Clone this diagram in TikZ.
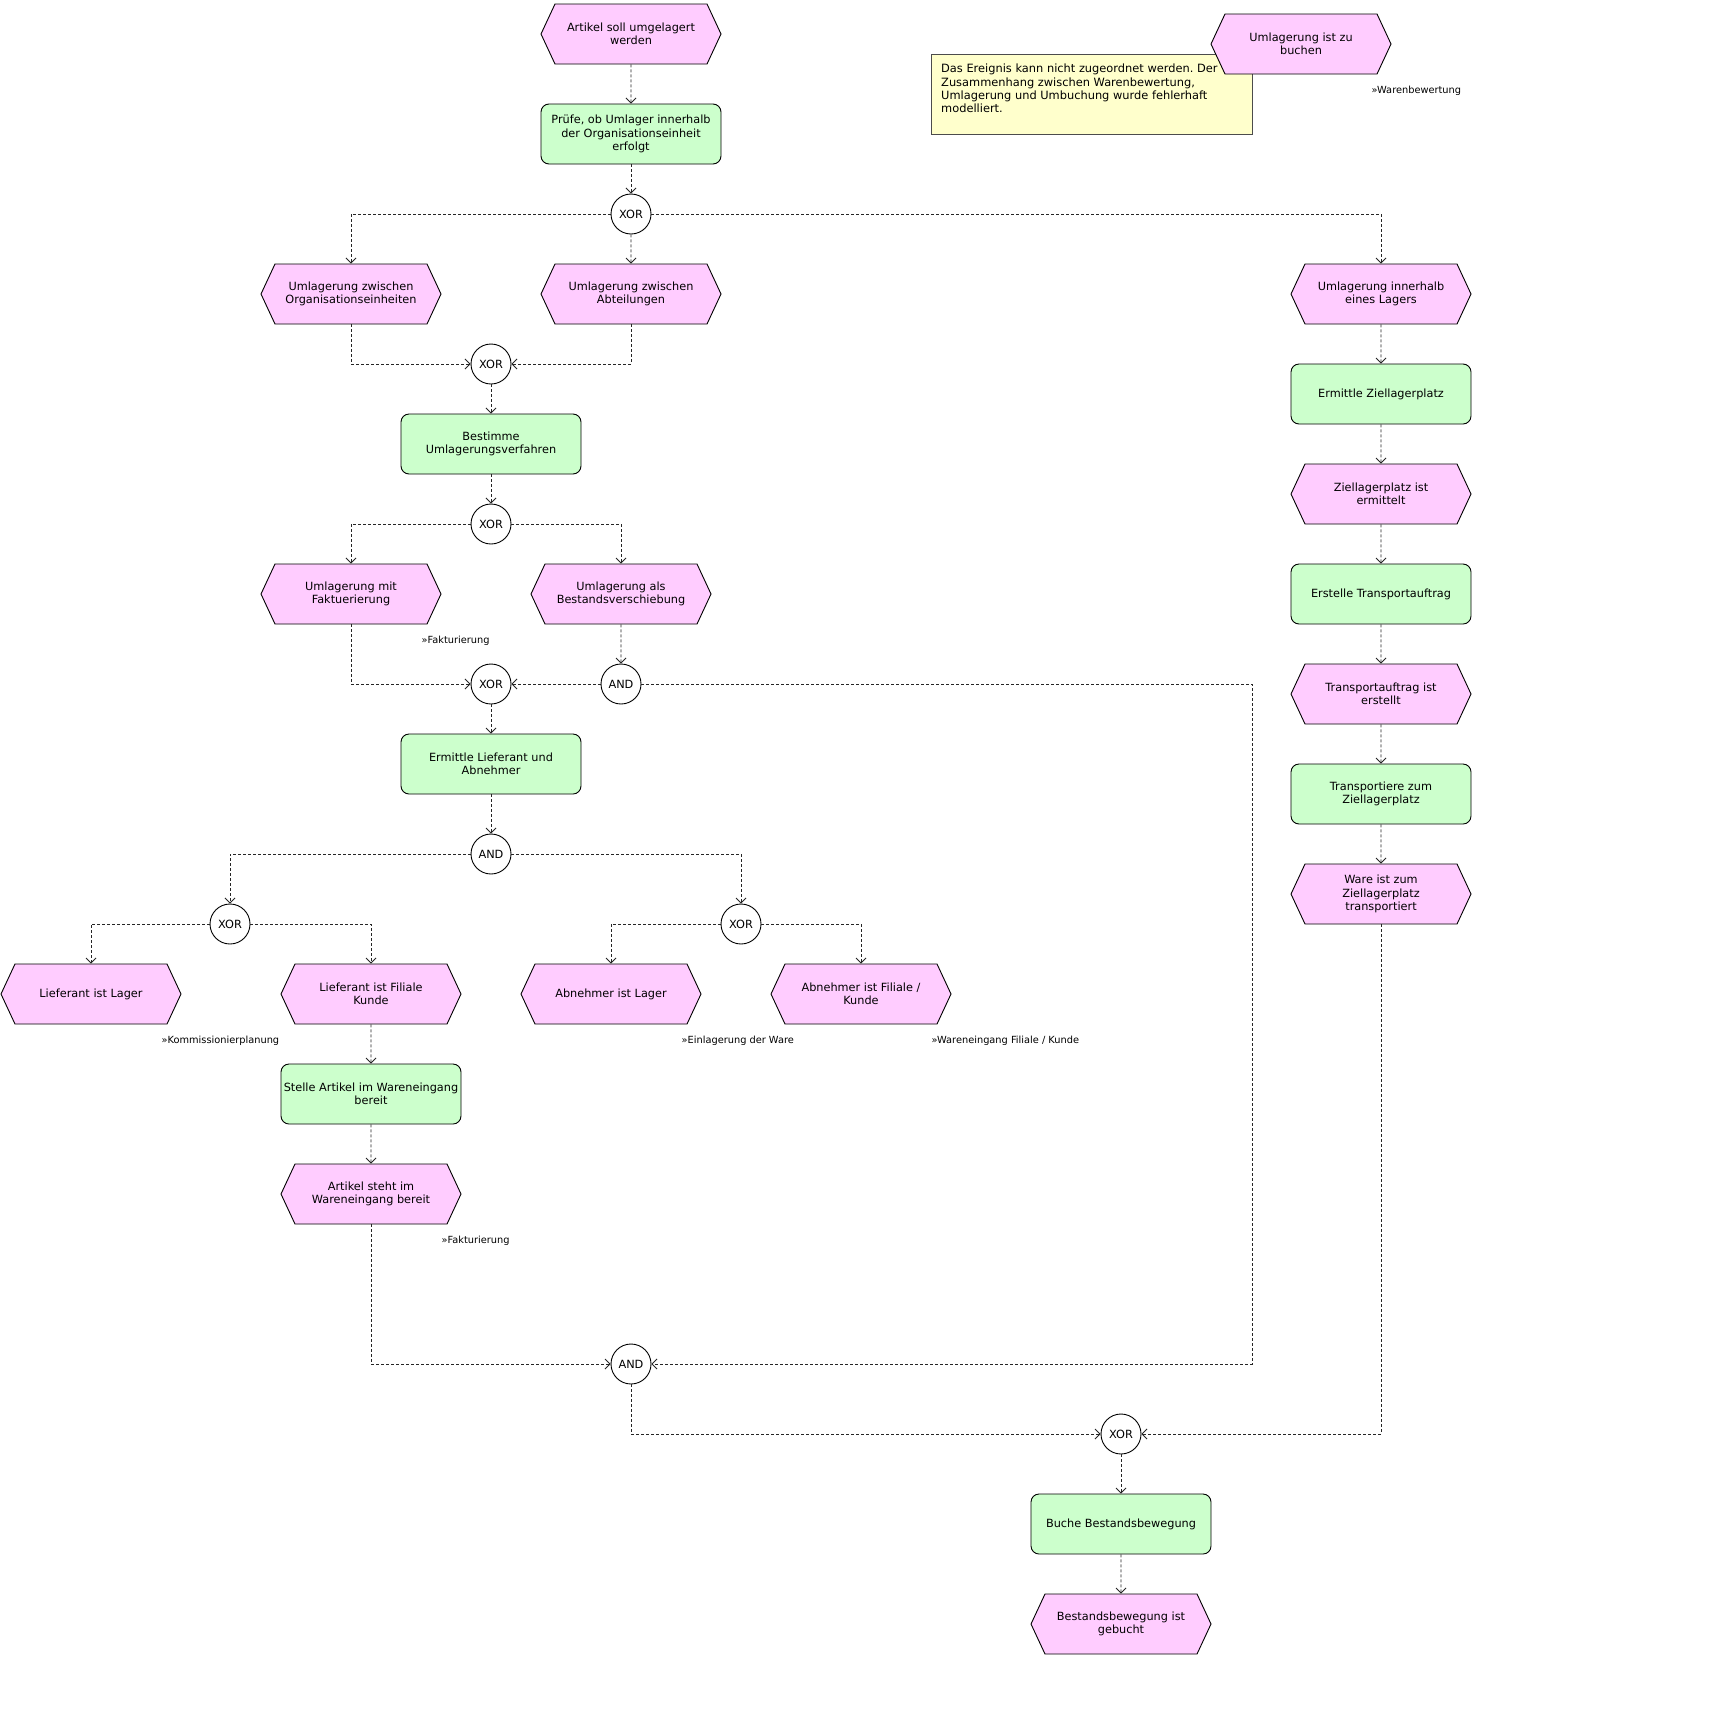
\documentclass[tikz,border=0pt]{standalone}
\usepackage{fontspec}
\setmainfont{DejaVu Sans}
\usetikzlibrary{shapes.symbols,arrows.meta}
\definecolor{evpink}{RGB}{255,204,255}
\definecolor{fngreen}{RGB}{204,255,204}
\definecolor{noteyellow}{RGB}{255,255,204}
\frenchspacing

\begin{document}
\begin{tikzpicture}[x=1pt,y=-1pt,
  ev/.style={signal, signal to=east and west, signal pointer angle=130, draw, line width=0.9pt,
    fill=evpink, minimum width=180pt, minimum height=60pt, inner sep=1pt, align=center,
    font=\fontsize{11.3}{13.2}\selectfont},
  fn/.style={rectangle, rounded corners=8pt, draw, line width=0.9pt, fill=fngreen,
    minimum width=180pt, minimum height=60pt, inner sep=1pt, align=center,
    font=\fontsize{11.3}{13.2}\selectfont},
  op/.style={circle, draw, line width=0.9pt, fill=white, minimum size=40pt, inner sep=0pt,
    font=\fontsize{11.3}{13.2}\selectfont},
  flow/.style={draw=black!85, line width=0.8pt, dash pattern=on 3pt off 2pt,
    -{Straight Barb[length=5pt,width=10pt]}},
  ref/.style={anchor=west, inner sep=0pt, font=\fontsize{9.8}{11}\selectfont},
  hint/.style={draw=black!70, line width=1pt, fill=noteyellow}]
  \useasboundingbox (0,0) rectangle (1713,1727);

  % note and the unassigned event
  \draw[hint] (931,54) rectangle (1252,134);
  \node[anchor=north west, inner sep=0pt, align=left, font=\fontsize{11.4}{13.2}\selectfont] (hinttext) at (941,64)
    {Das Ereignis kann nicht zugeordnet werden. Der\\Zusammenhang zwischen Warenbewertung,\\Umlagerung und Umbuchung wurde fehlerhaft\\modelliert.};
  \node[ev] (buchen) at (1301,44) {Umlagerung ist zu\\buchen};

  % main column
  \node[ev] (start) at (631,34) {Artikel soll umgelagert\\werden};
  \node[fn] (pruefe) at (631,134) {Prüfe, ob Umlager innerhalb\\der Organisationseinheit\\erfolgt};
  \node[op] (x1) at (631,214) {XOR};
  \node[ev] (orgeh) at (351,294) {Umlagerung zwischen\\Organisationseinheiten};
  \node[ev] (abt) at (631,294) {Umlagerung zwischen\\Abteilungen};
  \node[op] (x2) at (491,364) {XOR};
  \node[fn] (bestimme) at (491,444) {Bestimme\\Umlagerungsverfahren};
  \node[op] (x3) at (491,524) {XOR};
  \node[ev] (faktu) at (351,594) {Umlagerung mit\\Faktuerierung};
  \node[ev] (bestand) at (621,594) {Umlagerung als\\Bestandsverschiebung};
  \node[op] (x4) at (491,684) {XOR};
  \node[op] (a1) at (621,684) {AND};
  \node[fn] (ermittle) at (491,764) {Ermittle Lieferant und\\Abnehmer};
  \node[op] (a2) at (491,854) {AND};
  \node[op] (x5) at (230,924) {XOR};
  \node[op] (x6) at (741,924) {XOR};
  \node[ev] (lflager) at (91,994) {Lieferant ist Lager};
  \node[ev] (lffil) at (371,994) {Lieferant ist Filiale\\Kunde};
  \node[ev] (ablager) at (611,994) {Abnehmer ist Lager};
  \node[ev] (abfil) at (861,994) {Abnehmer ist Filiale /\\Kunde};
  \node[fn] (stelle) at (371,1094) {Stelle Artikel im Wareneingang\\bereit};
  \node[ev] (steht) at (371,1194) {Artikel steht im\\Wareneingang bereit};
  \node[op] (a3) at (631,1364) {AND};
  \node[op] (x7) at (1121,1434) {XOR};
  \node[fn] (buche) at (1121,1524) {Buche Bestandsbewegung};
  \node[ev] (gebucht) at (1121,1624) {Bestandsbewegung ist\\gebucht};

  % right column
  \node[ev] (lager) at (1381,294) {Umlagerung innerhalb\\eines Lagers};
  \node[fn] (zielerm) at (1381,394) {Ermittle Ziellagerplatz};
  \node[ev] (zielist) at (1381,494) {Ziellagerplatz ist\\ermittelt};
  \node[fn] (erstelle) at (1381,594) {Erstelle Transportauftrag};
  \node[ev] (taist) at (1381,694) {Transportauftrag ist\\erstellt};
  \node[fn] (transp) at (1381,794) {Transportiere zum\\Ziellagerplatz};
  \node[ev] (ware) at (1381,894) {Ware ist zum\\Ziellagerplatz\\transportiert};

  % process references
  \node[ref] (r1) at ([shift={(-20,47)}]buchen.east) {»Warenbewertung};
  \node[ref] (r2) at ([shift={(-20,47)}]faktu.east) {»Fakturierung};
  \node[ref] (r3) at ([shift={(-20,47)}]lflager.east) {»Kommissionierplanung};
  \node[ref] (r4) at ([shift={(-20,47)}]ablager.east) {»Einlagerung der Ware};
  \node[ref] (r5) at ([shift={(-20,47)}]abfil.east) {»Wareneingang Filiale / Kunde};
  \node[ref] (r6) at ([shift={(-20,47)}]steht.east) {»Fakturierung};

  % connectors
  \foreach \a/\b in {start/pruefe, pruefe/x1, x1/abt, x2/bestimme, bestimme/x3,
      bestand/a1, a1/x4, x4/ermittle, ermittle/a2, lffil/stelle, stelle/steht,
      x7/buche, buche/gebucht, lager/zielerm, zielerm/zielist, zielist/erstelle,
      erstelle/taist, taist/transp, transp/ware}
    \draw[flow] (\a) -- (\b);
  \foreach \a/\b in {x1/orgeh, x1/lager, x3/faktu, x3/bestand, a2/x5, a2/x6,
      x5/lflager, x5/lffil, x6/ablager, x6/abfil}
    \draw[flow] (\a) -| (\b);
  \foreach \a/\b in {orgeh/x2, abt/x2, faktu/x4, steht/a3, a3/x7, ware/x7}
    \draw[flow] (\a) |- (\b);
  \coordinate (k1) at (1252,1364);
  \draw[flow] (a1) -| (k1) -- (a3);
\end{tikzpicture}
\end{document}
